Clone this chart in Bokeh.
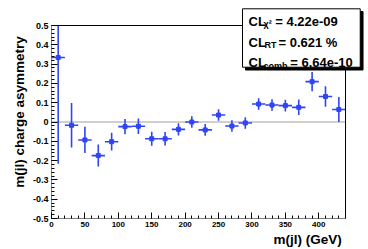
from bokeh.plotting import figure
from bokeh.models import FixedTicker, Title, Range1d
from bokeh.core.properties import value
from bokeh.embed import file_html
from bokeh.resources import INLINE

# ---- data ----
mass = [10, 30, 50, 70, 90, 110, 130, 150, 170, 190, 210, 230, 250, 270, 290, 310, 330, 350, 370, 390, 410, 430]
asym = [0.334, -0.017, -0.093, -0.174, -0.102, -0.024, -0.022, -0.087, -0.087, -0.038, 0.0, -0.041,
        0.036, -0.021, -0.005, 0.093, 0.088, 0.085, 0.076, 0.209, 0.132, 0.065]
err = [0.55, 0.115, 0.068, 0.057, 0.046, 0.040, 0.040, 0.036, 0.035, 0.032, 0.030, 0.030,
       0.030, 0.030, 0.030, 0.030, 0.030, 0.030, 0.040, 0.050, 0.053, 0.065]
half_bin = 10
x_min, x_max = 0, 440
y_min, y_max = -0.5, 0.5
y_ticks = [-0.5, -0.4, -0.3, -0.2, -0.1, 0.0, 0.1, 0.2, 0.3, 0.4, 0.5]
y_tick_labels = ["-0.5", "-0.4", "-0.3", "-0.2", "-0.1", "0", "0.1", "0.2", "0.3", "0.4", "0.5"]
x_ticks = [0, 50, 100, 150, 200, 250, 300, 350, 400]
x_tick_labels = ["0", "50", "100", "150", "200", "250", "300", "350", "400"]
cl_names = ["\u03c7\u00b2", "RT", "comb"]
cl_values = ["= 4.22e-09", "= 0.621 %", "= 6.64e-10"]

FONT = "Liberation Sans"
BLUE = "#2f45f5"

# frame extended to the right/top so the stats box can be drawn as glyphs
p = figure(width=368, height=249, output_backend="svg", toolbar_location=None,
           x_range=Range1d(0, 468.4), y_range=Range1d(-0.5, 0.60363),
           min_border_left=51, min_border_right=4, min_border_top=5, min_border_bottom=31)
p.grid.visible = False
p.outline_line_color = None
p.background_fill_color = "white"
p.border_fill_color = "white"

# axes
p.yaxis.ticker = FixedTicker(ticks=y_ticks, minor_ticks=[round(-0.5 + 0.02 * i, 2) for i in range(51)])
p.yaxis.major_label_overrides = {t: l for t, l in zip(y_ticks, y_tick_labels)}
p.xaxis.ticker = FixedTicker(ticks=x_ticks, minor_ticks=list(range(0, 441, 10)))
p.xaxis.major_label_overrides = {t: l for t, l in zip(x_ticks, x_tick_labels)}
for ax in (p.xaxis, p.yaxis):
    ax.major_tick_in = 6
    ax.major_tick_out = 0
    ax.minor_tick_in = 3
    ax.minor_tick_out = 0
    ax.axis_line_color = None
    ax.major_tick_line_color = "black"
    ax.minor_tick_line_color = "black"
    ax.major_label_text_font = FONT
    ax.major_label_text_font_style = "bold"
    ax.major_label_standoff = 3
    ax.major_label_text_color = "black"
p.yaxis.major_label_text_font_size = "9px"
p.xaxis.major_label_text_font_size = "8px"
p.yaxis.axis_label = "m(jl) charge asymmetry"
p.yaxis.axis_label_text_font = FONT
p.yaxis.axis_label_text_font_style = "bold"
p.yaxis.axis_label_text_font_size = "13.5px"
p.yaxis.axis_label_standoff = 3
p.yaxis.axis_label_text_color = "black"

# x axis title, right aligned at the frame's right edge
p.add_layout(Title(text="m(jl)  (GeV)", align="right", offset=19, standoff=0,
                   text_font=FONT, text_font_style="bold", text_font_size="13.5px",
                   text_color="black"), "below")

# zero line
p.segment(x0=[x_min], y0=[0], x1=[x_max], y1=[0], line_color="#a0a0a0", line_width=1)

# error bars (clipped to the plotted range)
lo = [max(a - e, y_min) for a, e in zip(asym, err)]
hi = [min(a + e, y_max) for a, e in zip(asym, err)]
xl = [max(m - half_bin, x_min) for m in mass]
xr = [m + half_bin for m in mass]
p.segment(x0=mass, y0=lo, x1=mass, y1=hi, line_color=BLUE, line_width=1.6)
p.segment(x0=xl, y0=asym, x1=xr, y1=asym, line_color=BLUE, line_width=1.6)
p.scatter(x=mass, y=asym, marker="square", size=4, fill_color=BLUE, line_color=BLUE)

# frame
p.quad(left=[x_min], right=[x_max], bottom=[y_min], top=[y_max], fill_color=None,
       line_color="black", line_width=1)

# stats box with shadow
p.quad(left=[290.3], right=[466.2], top=[0.5725], bottom=[0.2694],
       fill_color="black", line_color="black")
p.quad(left=[285.85], right=[462.0], top=[0.5865], bottom=[0.2839],
       fill_color="white", line_color="black", line_width=1)

base_y = [0.5223, 0.4135, 0.3098]
sub_y = [0.5090, 0.3964, 0.2927]
sub_x = [317.3, 318.8, 317.3]
val_x = [334.8, 339.7, 357.2]
p.text(x=[294.8] * 3, y=base_y, text=["CL"] * 3, text_baseline="alphabetic",
       text_font=value(FONT), text_font_style="bold", text_font_size="13px", text_color="black")
p.text(x=sub_x, y=sub_y, text=cl_names, text_baseline="alphabetic",
       text_font=value(FONT), text_font_style="bold", text_font_size="9px", text_color="black")
p.text(x=val_x, y=base_y, text=cl_values, text_baseline="alphabetic",
       text_font=value(FONT), text_font_style="bold", text_font_size="13px", text_color="black")

open("out.html", "w").write(file_html(p, INLINE))
